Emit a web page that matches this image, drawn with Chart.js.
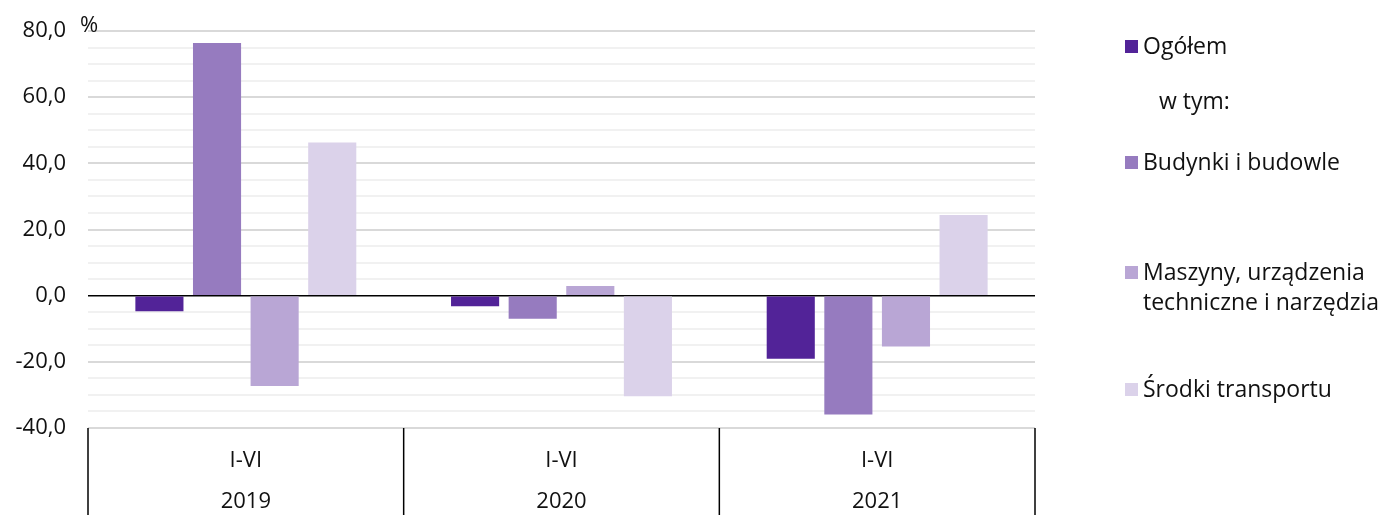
<!DOCTYPE html>
<html>
<head>
<meta charset="utf-8">
<script src="https://cdn.jsdelivr.net/npm/chart.js@4/dist/chart.umd.min.js"></script>
<style>
  html, body { margin: 0; padding: 0; background: #fff; }
  #wrap { position: relative; width: 1389px; height: 515px; }
  #legend { position: absolute; left: 0; top: 0; font-family: 'Open Sans', sans-serif; font-size: 23px; color: #111; }
  .item { position: absolute; left: 1125px; white-space: nowrap; line-height: 30px; }
  .box { display: inline-block; width: 13px; height: 13px; margin-right: 5px; vertical-align: 1px; }
  .ind { display: block; padding-left: 18px; }
</style>
</head>
<body>
<div id="wrap">
  <canvas id="chart" width="1389" height="515"></canvas>
  <div id="legend"></div>
</div>
<script>
// data
const periods = ['I-VI', 'I-VI', 'I-VI'];
const years = ['2019', '2020', '2021'];
const seriesNames = ['Ogółem', 'Budynki i budowle', 'Maszyny, urządzenia techniczne i narzędzia', 'Środki transportu'];
const ogolem = [-4.7, -3.2, -19.1];
const budynki = [76.4, -7.0, -35.9];
const maszyny = [-27.3, 2.9, -15.4];
const srodki = [46.3, -30.4, 24.4];
const yTicks = [-40, -20, 0, 20, 40, 60, 80];
const colors = ['#522398', '#967bbf', '#b9a6d5', '#dbd2ea'];

const FONT = "'Open Sans', sans-serif";

// legend (html)
const legendRows = [
  { label: 'Ogółem', color: colors[0], top: 30 },
  { label: 'w tym:', color: null, top: 85 },
  { label: 'Budynki i budowle', color: colors[1], top: 146 },
  { label: 'Maszyny, urządzenia<span class="ind">techniczne i narzędzia</span>', color: colors[2], top: 256 },
  { label: 'Środki transportu', color: colors[3], top: 373 }
];
const lg = document.getElementById('legend');
legendRows.forEach(r => {
  const d = document.createElement('div');
  d.className = 'item';
  d.style.top = r.top + 'px';
  if (r.color) {
    d.innerHTML = '<span class="box" style="background:' + r.color + '"></span>' + r.label;
  } else {
    d.style.left = '1159px';
    d.innerHTML = r.label;
  }
  lg.appendChild(d);
});

// x-axis two-row labels + separators, and the % unit
const axisDecor = {
  id: 'axisDecor',
  afterDraw(chart) {
    const ctx = chart.ctx;
    const x = chart.scales.x;
    const area = chart.chartArea;
    ctx.save();
    ctx.strokeStyle = '#000';
    ctx.lineWidth = 1.5;
    for (let i = 0; i <= periods.length; i++) {
      let px;
      if (i === 0) px = area.left;
      else if (i === periods.length) px = area.right;
      else px = (x.getPixelForValue(i - 1) + x.getPixelForValue(i)) / 2;
      ctx.beginPath();
      ctx.moveTo(px, area.bottom);
      ctx.lineTo(px, chart.height);
      ctx.stroke();
    }
    ctx.fillStyle = '#111';
    ctx.font = Chart.helpers.toFont({ family: FONT, size: 22 }).string;
    ctx.textAlign = 'center';
    ctx.textBaseline = 'middle';
    periods.forEach((p, i) => {
      const cx = x.getPixelForValue(i);
      ctx.fillText(p, cx, area.bottom + 33);
      ctx.fillText(years[i], cx, area.bottom + 74);
    });
    ctx.textAlign = 'left';
    ctx.fillText('%', 80, 26);
    ctx.restore();
  }
};

const ds = [ogolem, budynki, maszyny, srodki].map((d, i) => ({
  label: seriesNames[i],
  data: d,
  backgroundColor: colors[i],
  borderWidth: 0,
  categoryPercentage: 0.73,
  barPercentage: 0.835
}));

function draw() {
  new Chart(document.getElementById('chart').getContext('2d'), {
    type: 'bar',
    data: { labels: periods.map((p, i) => p + ' ' + years[i]), datasets: ds },
    options: {
      responsive: false,
      animation: false,
      layout: { padding: { top: 31, right: 354, bottom: 87, left: 0 } },
      plugins: { legend: { display: false }, tooltip: { enabled: false } },
      scales: {
        x: { display: false },
        y: {
          min: -40, max: 80,
          afterFit: s => { s.width = 88; s.paddingTop = 0; s.paddingBottom = 0; },
          afterBuildTicks: s => {
            const t = [];
            for (let v = -40; v <= 80; v += 5) t.push({ value: v });
            s.ticks = t;
          },
          border: { display: false },
          grid: {
            drawTicks: false,
            color: c => c.tick.value === 0 ? '#000' : (yTicks.includes(c.tick.value) ? '#d9d9d9' : '#f1f1f1'),
            lineWidth: c => c.tick.value === 0 ? 1.5 : 2
          },
          ticks: {
            autoSkip: false,
            padding: 22,
            color: '#111',
            font: { family: FONT, size: 22 },
            callback: v => yTicks.includes(v) ? v.toFixed(1).replace('.', ',') : ''
          }
        }
      }
    },
    plugins: [axisDecor]
  });
}

if (document.fonts && document.fonts.load) {
  document.fonts.load("22px 'Open Sans'").then(draw, draw);
} else {
  draw();
}
</script>
</body>
</html>
